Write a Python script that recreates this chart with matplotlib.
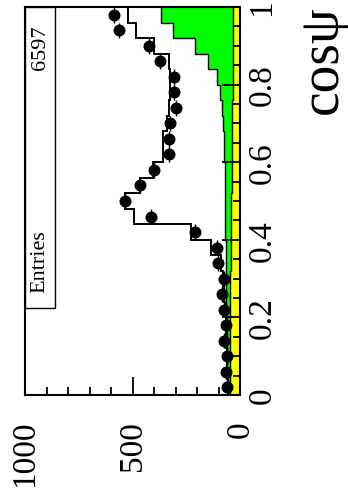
import numpy as np
import matplotlib
matplotlib.use("Agg")
import matplotlib.pyplot as plt
from matplotlib.patches import Rectangle
from matplotlib.ticker import MultipleLocator

plt.rcParams['font.family'] = ['Liberation Serif', 'DejaVu Serif']

# cos(psi) binning, 25 bins of 0.04
edges = np.linspace(0.0, 1.0, 26)
centers = 0.5 * (edges[:-1] + edges[1:])

data = [59, 65, 62, 73, 65, 75, 86, 75, 101, 106, 207, 413, 537,
        467, 400, 329, 332, 324, 300, 307, 307, 372, 425, 562, 587]
mc_total = [58, 60, 62, 64, 66, 70, 75, 80, 88, 135, 228, 495, 537,
            467, 405, 360, 360, 340, 330, 325, 325, 330, 402, 486, 522]
bkg_yellow = [48, 48, 47, 47, 46, 46, 45, 45, 44, 43, 42, 41, 40,
              39, 38, 37, 36, 35, 35, 34, 33, 33, 32, 31, 31]
bkg_green = [10, 11, 13, 14, 16, 17, 19, 20, 22, 24, 26, 28, 30,
             32, 34, 36, 39, 43, 51, 59, 76, 115, 178, 280, 335]
n_entries = 6597

count_ticks = [0, 500, 1000]
cos_ticks = [0, 0.2, 0.4, 0.6, 0.8, 1]
cos_labels = ['0', '0.2', '0.4', '0.6', '0.8', '1']

fig = plt.figure(figsize=(3.48, 5.02), dpi=100)
ax = fig.add_axes([25 / 348, 1 - 396 / 502, 215 / 348, 388 / 502])

yellow = np.array(bkg_yellow, dtype=float)
green_top = yellow + np.array(bkg_green, dtype=float)

# stacked backgrounds
ax.stairs(yellow, edges, baseline=0, fill=True, orientation='horizontal',
          facecolor='#ffff00', edgecolor='none', zorder=1)
ax.stairs(green_top, edges, baseline=yellow, fill=True, orientation='horizontal',
          facecolor='#00ff00', edgecolor='none', zorder=1)
ax.stairs(yellow, edges, baseline=None, orientation='horizontal',
          color='black', lw=1.0, zorder=1.2)
ax.stairs(green_top, edges, baseline=None, orientation='horizontal',
          color='black', lw=1.0, zorder=1.2)

# total MC
ax.stairs(mc_total, edges, baseline=0, orientation='horizontal',
          color='black', lw=1.4, zorder=2)

# data points
d = np.array(data, dtype=float)
ax.errorbar(d, centers, xerr=np.sqrt(d), yerr=0.02, fmt='o', color='black',
            ms=7.6, elinewidth=1.0, capsize=0, zorder=3)

ax.set_xlim(1000, 0)
ax.set_ylim(0, 1)

# counts axis along the bottom
ax.set_xticks(count_ticks)
ax.set_xticklabels([str(t) for t in count_ticks])
ax.xaxis.set_minor_locator(MultipleLocator(100))
ax.tick_params(axis='x', which='major', direction='in', length=13, width=1.3,
               labelsize=24, labelrotation=90, pad=18, top=False)
ax.tick_params(axis='x', which='minor', direction='in', length=6, width=1.3, top=False)

# cos(psi) axis on the right
ax.yaxis.tick_right()
ax.set_yticks(cos_ticks)
ax.set_yticklabels(cos_labels)
ax.yaxis.set_minor_locator(MultipleLocator(0.05))
ax.tick_params(axis='y', which='major', direction='in', length=13, width=1.3,
               labelsize=24, labelrotation=90, pad=5, left=False)
ax.tick_params(axis='y', which='minor', direction='in', length=5, width=1.3, left=False)
for lab in ax.get_yticklabels():
    lab.set_va('center')

for sp in ax.spines.values():
    sp.set_linewidth(1.5)
    sp.set_zorder(4)

# stats box
box = Rectangle((0, 87 / 388), 30 / 215, 1 - 87 / 388, transform=ax.transAxes,
                facecolor='white', edgecolor='black', lw=1.0, zorder=5)
ax.add_patch(box)
ax.text(15 / 215, 103 / 388, 'Entries', transform=ax.transAxes, rotation=90,
        ha='center', va='bottom', fontsize=16, zorder=6)
ax.text(15 / 215, 371 / 388, str(n_entries), transform=ax.transAxes, rotation=90,
        ha='center', va='top', fontsize=16, zorder=6)

fig.text(323 / 348, 1 - 5 / 502, 'cos\u03c8', rotation=90, ha='center', va='top',
         fontsize=40)

fig.savefig('out.png', dpi=100)
